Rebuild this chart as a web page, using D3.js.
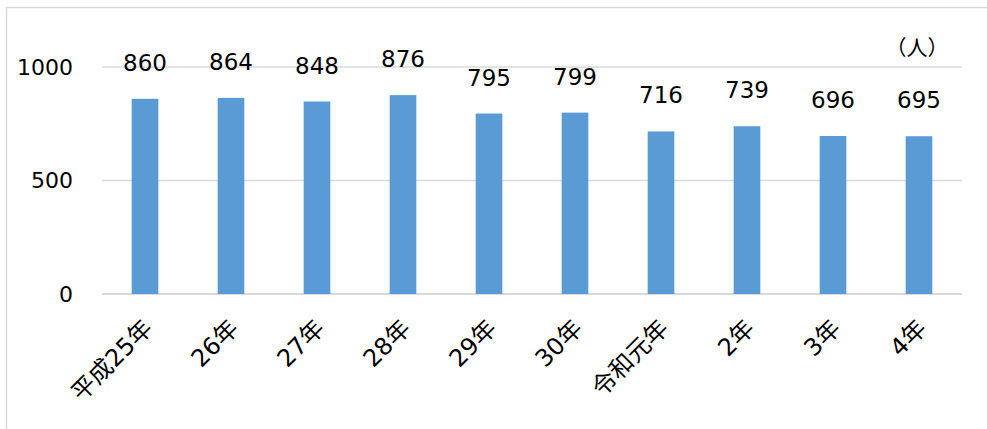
<!DOCTYPE html>
<html>
<head>
<meta charset="utf-8">
<script src="https://cdn.jsdelivr.net/npm/d3@7"></script>
<style>
  body { margin: 0; background: #fff; }
  text { font-family: "DejaVu Sans", "Noto Sans CJK JP", sans-serif; fill: #000; }
</style>
</head>
<body>
<div id="chart"></div>
<script>
// data
var years = ['平成25年','26年','27年','28年','29年','30年','令和元年','2年','3年','4年'];
var counts = [860, 864, 848, 876, 795, 799, 716, 739, 696, 695];
var yTicks = [0, 500, 1000];
var unitLabel = '（人）';

var W = 987, H = 429;
var margin = {top: 67, right: 25, bottom: 135, left: 102},
    width = W - margin.left - margin.right,
    height = H - margin.top - margin.bottom;

var svg = d3.select('#chart').append('svg')
  .attr('width', W)
  .attr('height', H);

// outer frame (only left and top edges visible)
svg.append('path')
  .attr('d', 'M6.5,' + H + 'V7.5H' + W)
  .attr('fill', 'none')
  .attr('stroke', '#d9d9d9')
  .attr('stroke-width', 1.5);

var g = svg.append('g')
  .attr('transform', 'translate(' + margin.left + ',' + margin.top + ')');

var x = d3.scaleBand()
  .domain(years)
  .range([0, width])
  .paddingInner(0.69)
  .paddingOuter(0.345);

var y = d3.scaleLinear()
  .domain([0, 1000])
  .range([height, 0]);

//gridlines
g.selectAll('line.grid')
  .data(yTicks)
  .enter().append('line')
  .attr('class', 'grid')
  .attr('x1', 0)
  .attr('x2', width)
  .attr('y1', function(d){ return y(d); })
  .attr('y2', function(d){ return y(d); })
  .attr('stroke', '#d9d9d9')
  .attr('stroke-width', function(d){ return d === 0 ? 2 : 1.5; });

//y axis labels
var yAxis = g.append('g')
  .call(d3.axisLeft(y).tickValues(yTicks).tickFormat(d3.format('d')).tickSize(0).tickPadding(29));
yAxis.select('.domain').remove();
yAxis.selectAll('text')
  .style('font-size', '22px')
  .attr('dy', '0.32em');

//bars
g.selectAll('rect.bar')
  .data(counts)
  .enter().append('rect')
  .attr('class', 'bar')
  .attr('x', function(d, i){ return x(years[i]); })
  .attr('y', function(d){ return y(d); })
  .attr('width', x.bandwidth())
  .attr('height', function(d){ return height - y(d); })
  .attr('fill', '#5b9bd5');

//value labels
g.selectAll('text.value')
  .data(counts)
  .enter().append('text')
  .attr('class', 'value')
  .attr('x', function(d, i){ return x(years[i]) + x.bandwidth() / 2; })
  .attr('y', function(d){ return y(d) - 28; })
  .attr('text-anchor', 'middle')
  .style('font-size', '23px')
  .text(function(d){ return d; });

//category labels, rotated
g.selectAll('text.cat')
  .data(years)
  .enter().append('text')
  .attr('class', 'cat')
  .attr('transform', function(d){
    var cx = x(d) + x.bandwidth() / 2 - 3;
    return 'translate(' + cx + ',' + (height + 24) + ') rotate(-45)';
  })
  .attr('text-anchor', 'end')
  .attr('dy', '0.7em')
  .style('font-size', '24px')
  .text(function(d){ return d; });

//unit label
svg.append('text')
  .attr('x', 917)
  .attr('y', 55)
  .attr('text-anchor', 'middle')
  .style('font-family', '"Noto Sans CJK JP", sans-serif')
  .style('font-size', '21px')
  .text(unitLabel);
</script>
</body>
</html>
